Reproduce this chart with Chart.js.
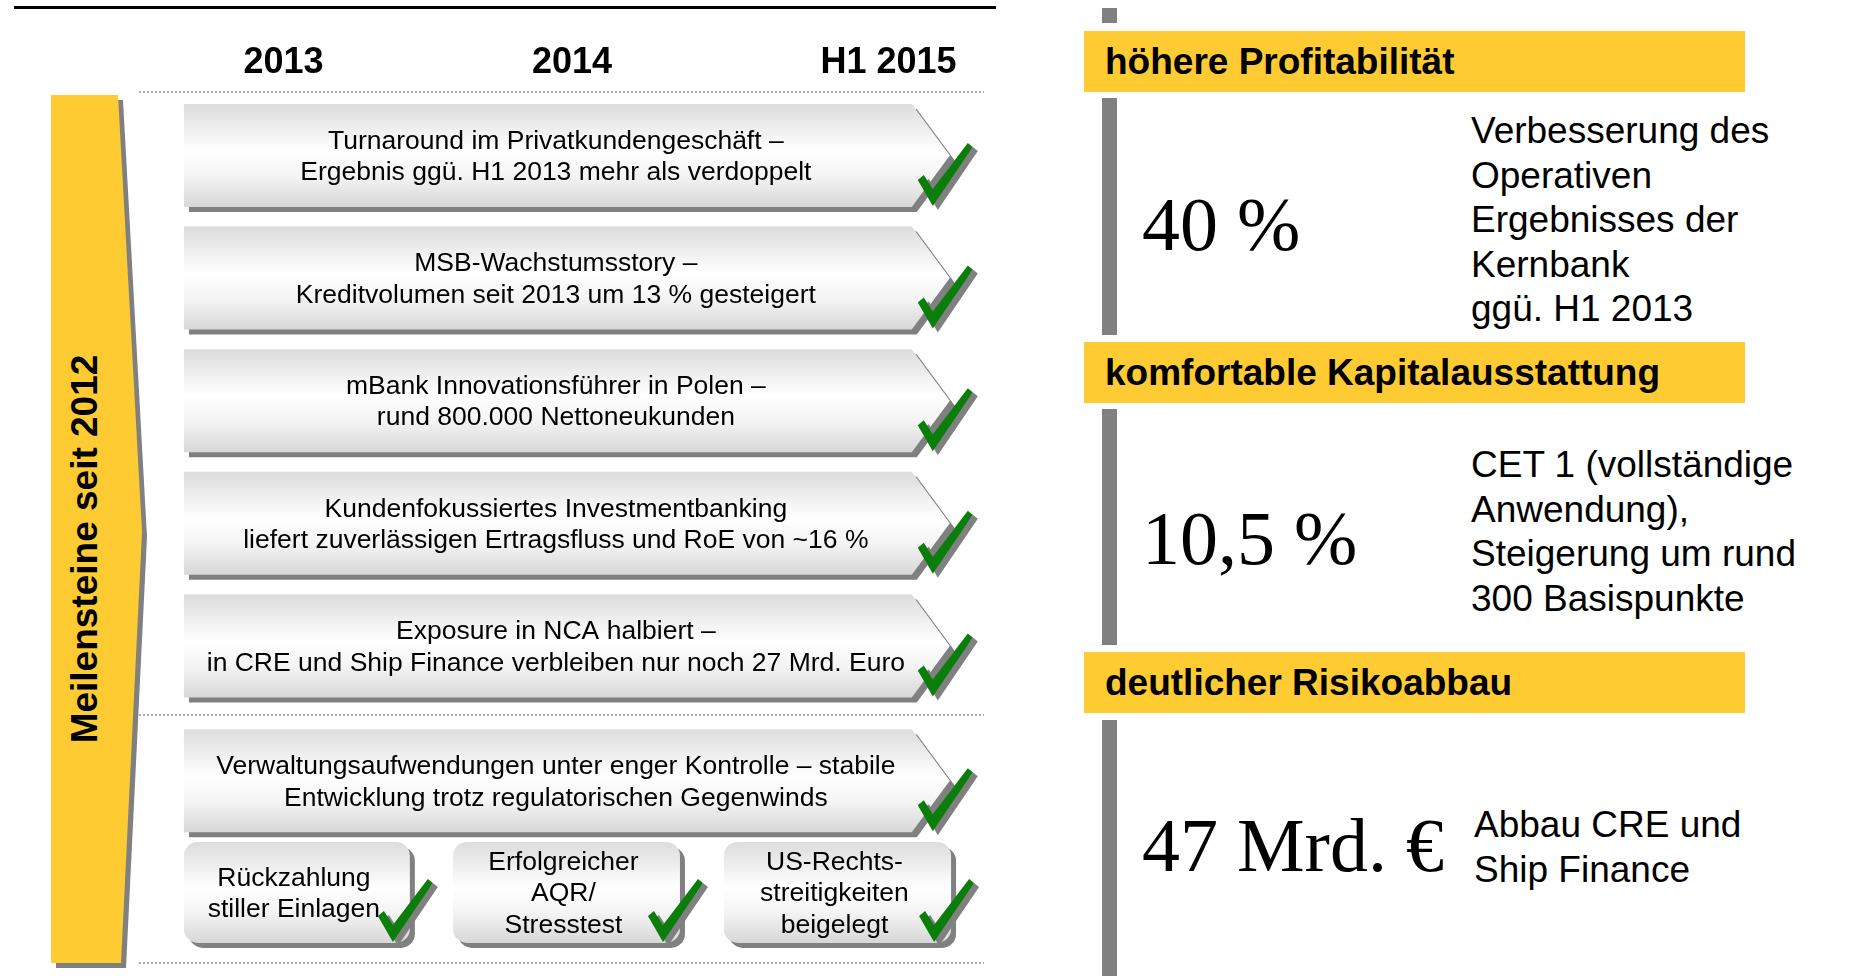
<!DOCTYPE html>
<html lang="de">
<head>
<meta charset="utf-8">
<title>Meilensteine seit 2012</title>
<script src="https://cdn.jsdelivr.net/npm/chart.js@4.4.1/dist/chart.umd.min.js"></script>
<style>
  html, body { margin: 0; padding: 0; background: #fff; }
  body { width: 1853px; height: 976px; position: relative; overflow: hidden;
         font-family: "Liberation Sans", Arial, sans-serif; color: #000; }
  .abs { position: absolute; }
  #topRule { left: 14px; top: 6px; width: 982px; height: 3px; background: #000; }
  #sideShadow, #side { width: 92px; height: 868px;
    clip-path: polygon(0 0, 67px 0, 91px 437px, 70px 868px, 0 868px); }
  #sideShadow { left: 56px; top: 100px; background: #808080; }
  #side { left: 51px; top: 95px; background: #ffcb33; }
  #sideText { left: 85px; top: 549px; transform: translate(-50%, -50%) rotate(-90deg);
    white-space: nowrap; font-weight: bold; font-size: 37px; }
  #chart { left: 0; top: 0; }
  .grayBar { left: 1102px; width: 15px; background: #808080; }
  .kpiHead { left: 1084px; width: 661px; height: 61px; line-height: 61px; background: #ffcb33;
    font-weight: bold; font-size: 37px; padding-left: 21px; box-sizing: border-box; white-space: nowrap; }
  .kpiValue { left: 1142px; font-family: "Liberation Serif", "Times New Roman", serif;
    font-size: 76px; line-height: 76px; white-space: nowrap; }
  .kpiNote { font-size: 37px; line-height: 44.5px; white-space: nowrap; }
</style>
</head>
<body>
<div id="topRule" class="abs"></div>
<div id="sideShadow" class="abs"></div>
<div id="side" class="abs"></div>
<div id="sideText" class="abs">Meilensteine seit 2012</div>
<canvas id="chart" class="abs" width="1000" height="976"></canvas>
<div class="abs grayBar" style="top:8px;height:15px"></div>
<div class="abs grayBar" style="top:98px;height:237px"></div>
<div class="abs grayBar" style="top:409px;height:236px"></div>
<div class="abs grayBar" style="top:720px;height:256px"></div>
<div id="kpi"></div>

<script>
// timeline header
const yearLabels = ['2013', '2014', 'H1 2015'];
const yearPos = [0.39, 1.52, 2.76];

// milestones (full width arrows)
const milestones = [
    ['Turnaround im Privatkundengeschäft –', 'Ergebnis ggü. H1 2013 mehr als verdoppelt'],
    ['MSB-Wachstumsstory –', 'Kreditvolumen seit 2013 um 13 % gesteigert'],
    ['mBank Innovationsführer in Polen –', 'rund 800.000 Nettoneukunden'],
    ['Kundenfokussiertes Investmentbanking', 'liefert zuverlässigen Ertragsfluss und RoE von ~16 %'],
    ['Exposure in NCA halbiert –', 'in CRE und Ship Finance verbleiben nur noch 27 Mrd. Euro'],
    ['Verwaltungsaufwendungen unter enger Kontrolle – stabile', 'Entwicklung trotz regulatorischen Gegenwinds']
];
const milestoneSpan = [[0, 3], [0, 3], [0, 3], [0, 3], [0, 3], [0, 3]];

// smaller items, one per period
const smallItems = [
    ['Rückzahlung', 'stiller Einlagen'],
    ['Erfolgreicher', 'AQR/', 'Stresstest'],
    ['US-Rechts-', 'streitigkeiten', 'beigelegt']
];
const smallSpan = [[0, 0.885], [1.054, 1.943], [2.115, 3.005]];

// right hand key figures
const kpiTitles = ['höhere Profitabilität', 'komfortable Kapitalausstattung', 'deutlicher Risikoabbau'];
const kpiValues = ['40 %', '10,5 %', '47 Mrd. €'];
const kpiNotes = [
    ['Verbesserung des', 'Operativen', 'Ergebnisses der', 'Kernbank', 'ggü. H1 2013'],
    ['CET 1 (vollständige', 'Anwendung),', 'Steigerung um rund', '300 Basispunkte'],
    ['Abbau CRE und', 'Ship Finance']
];

// layout only
const rowPos = [0, 1, 2, 3, 4, 5.1];
const smallRow = 6.01;
const dividerPos = 4.565;
const kpiTop = [31, 342, 652];
const valueBase = [250, 564, 871];
const noteBase = [144, 478, 838];
const noteLeft = [1471, 1471, 1474];

const FONT = '"Liberation Sans", Arial, sans-serif';

function arrowPath(ctx, l, t, r, b) {
    const m = (t + b) / 2;
    ctx.beginPath();
    ctx.moveTo(l, t);
    ctx.lineTo(r - 38, t);
    ctx.lineTo(r, m);
    ctx.lineTo(r - 38, b);
    ctx.lineTo(l, b);
    ctx.closePath();
}

function roundPath(ctx, l, t, r, b) {
    ctx.beginPath();
    ctx.roundRect(l, t, r - l, b - t, 14);
}

function drawCheck(ctx, x, b) {
    const pts = [[-32, -27], [-26, -32], [-17, -18], [18, -64], [23, -60], [-17, -1]];
    [['#808080', 5, 4], ['#0b7d0b', 0, 0]].forEach(([col, dx, dy]) => {
        ctx.beginPath();
        pts.forEach(([px, py], k) => {
            if (k) ctx.lineTo(x + px + dx, b + py + dy);
            else ctx.moveTo(x + px + dx, b + py + dy);
        });
        ctx.closePath();
        ctx.fillStyle = col;
        ctx.fill();
    });
}

// draws the arrow / rounded boxes on top of the (invisible) floating bars
const boxPlugin = {
    id: 'boxes',
    afterDatasetsDraw(chart) {
        const ctx = chart.ctx;
        chart.data.datasets.forEach((ds, di) => {
            chart.getDatasetMeta(di).data.forEach((bar, i) => {
                const p = bar.getProps(['x', 'y', 'base', 'height'], true);
                const l = Math.min(p.base, p.x), r = Math.max(p.base, p.x);
                const t = p.y - p.height / 2, b = p.y + p.height / 2;
                const path = ds.shape === 'arrow' ? arrowPath : roundPath;
                ctx.save();
                ctx.fillStyle = '#808080';
                path(ctx, l + 5, t + 5, r + 5, b + 5);
                ctx.fill();
                const g = ctx.createLinearGradient(0, t, 0, b);
                g.addColorStop(0, '#dcdcdc');
                g.addColorStop(0.45, '#ffffff');
                g.addColorStop(0.7, '#f4f4f4');
                g.addColorStop(1, '#d7d7d7');
                ctx.fillStyle = g;
                path(ctx, l, t, r, b);
                ctx.fill();

                const lines = ds.texts[i];
                const cx = ds.shape === 'arrow' ? (l + r - 22) / 2 : (l + r) / 2 - 3;
                ctx.fillStyle = '#000';
                ctx.font = '26.5px ' + FONT;
                ctx.textAlign = 'center';
                ctx.textBaseline = 'alphabetic';
                lines.forEach((txt, k) => {
                    ctx.fillText(txt, cx, p.y + (k - (lines.length - 1) / 2) * 31.5 + 9);
                });
                drawCheck(ctx, r, b);
                ctx.restore();
            });
        });
    }
};

new Chart(document.getElementById('chart').getContext('2d'), {
    type: 'bar',
    data: {
        datasets: [{
            shape: 'arrow',
            texts: milestones,
            data: milestoneSpan.map((s, i) => ({ x: s, y: rowPos[i] })),
            backgroundColor: 'rgba(0,0,0,0)',
            barThickness: 103
        }, {
            shape: 'round',
            texts: smallItems,
            data: smallSpan.map(s => ({ x: s, y: smallRow })),
            backgroundColor: 'rgba(0,0,0,0)',
            barThickness: 101
        }]
    },
    options: {
        indexAxis: 'y',
        responsive: false,
        animation: false,
        devicePixelRatio: 1,
        events: [],
        grouped: false,
        layout: { padding: { left: 139, right: 16, top: 0, bottom: 13 } },
        scales: {
            x: {
                type: 'linear',
                position: 'top',
                min: -0.176,
                max: 3.134,
                afterBuildTicks: scale => { scale.ticks = yearPos.map(v => ({ value: v })); },
                afterFit: scale => { scale.height = 92; },
                ticks: {
                    autoSkip: false,
                    maxRotation: 0,
                    padding: -1,
                    color: '#000',
                    font: { family: FONT, size: 36, weight: 'bold' },
                    callback: (v, i) => yearLabels[i]
                },
                grid: { display: false },
                border: { display: false }
            },
            y: {
                type: 'linear',
                reverse: true,
                offset: false,
                min: -0.518,
                max: 6.586,
                afterBuildTicks: scale => {
                    scale.ticks = [scale.min, dividerPos, scale.max].map(v => ({ value: v }));
                },
                afterFit: scale => { scale.width = 0; },
                ticks: { display: false },
                grid: { offset: false, color: '#adadad', lineWidth: 2, drawTicks: false },
                border: { display: false, dash: [2, 2] }
            }
        },
        plugins: {
            legend: { display: false },
            tooltip: { enabled: false }
        }
    },
    plugins: [boxPlugin]
});

// right panel
const panel = document.getElementById('kpi');
function add(cls, html, left, top) {
    const d = document.createElement('div');
    d.className = 'abs ' + cls;
    d.innerHTML = html;
    if (left != null) d.style.left = left + 'px';
    d.style.top = top + 'px';
    panel.appendChild(d);
}
kpiTitles.forEach((title, i) => {
    add('kpiHead', title, null, kpiTop[i]);
    add('kpiValue', kpiValues[i], null, valueBase[i] - 64);
    add('kpiNote', kpiNotes[i].join('<br>'), noteLeft[i], noteBase[i] - 35);
});
</script>
</body>
</html>
